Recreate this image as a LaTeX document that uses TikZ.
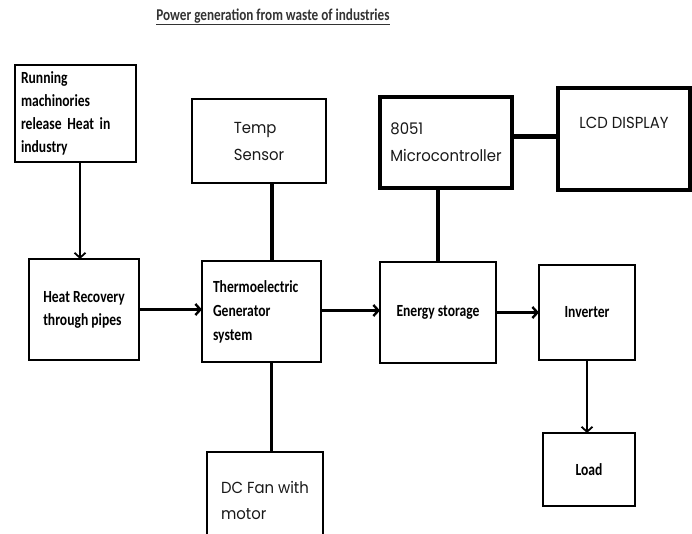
\documentclass[tikz,border=0pt]{standalone}
\usepackage{fontspec}
\newfontfamily\calib[FakeStretch=0.8]{Carlito}
\newfontfamily\gothic[FakeStretch=0.93]{Poppins}
\usetikzlibrary{arrows.meta}

\begin{document}
\begin{tikzpicture}[
  x=1pt, y=-1pt,
  box/.style={draw, line width=2.6pt, inner sep=0pt, outer sep=0pt, align=left, fill=white},
  cal/.style={font=\calib\bfseries\fontsize{17}{23}\selectfont},
  goth/.style={font=\gothic\fontsize{16}{27}\selectfont, text=black!90},
  arr/.style={-{Straight Barb[length=5pt,width=11pt]}, line width=2.4pt},
  link/.style={line width=3.4pt},
]
\useasboundingbox (0,0) rectangle (692,533);

% Title
\node[font=\calib\bfseries\fontsize{16.5}{18}\selectfont, black!80] (title) at (273,17) {\underline{Power generation from waste of industries}};

% Top row
\node[box, cal, minimum width=121, minimum height=97, text width=109] (running) at (75.5,113.5) {Running\\machinories\\release Heat in\\industry};
\node[box, goth, minimum width=134, minimum height=84] (temp) at (259,141) {Temp\\Sensor};
\node[box, goth, minimum width=132, minimum height=91, line width=3.2pt] (micro) at (446,142.5) {8051\\Microcontroller};
\node[box, goth, minimum width=132, minimum height=102, text depth=32pt, line width=3.2pt] (lcd) at (624,139) {LCD DISPLAY};

% Middle row
\node[box, cal, minimum width=110, minimum height=101] (heat) at (84,309.5) {Heat Recovery\\through pipes};
\node[box, cal, minimum width=119, minimum height=101, text width=97, font=\calib\bfseries\fontsize{17}{24}\selectfont] (thermo) at (261.5,311.5) {Thermoelectric\\Generator\\system};
\node[box, cal, minimum width=116, minimum height=101] (energy) at (438,312.5) {Energy storage};
\node[box, cal, minimum width=96, minimum height=95] (inverter) at (587,312.5) {Inverter};

% Bottom row
\node[box, goth, minimum width=116, minimum height=96, font=\gothic\fontsize{16}{26}\selectfont] (fan) at (265,500) {DC Fan with\\motor};
\node[box, cal, minimum width=92, minimum height=73] (load) at (589,469.5) {Load};

% Drop points of the vertical links
\coordinate (heatin) at ([xshift=-4pt]heat.north);
\coordinate (tempout) at ([xshift=13pt]temp.south);
\coordinate (fanout) at ([xshift=10pt]thermo.south);
\coordinate (microout) at ([yshift=6pt]micro.east);
\coordinate (thermoout) at ([yshift=1pt]thermo.east);

% Main flow
\draw[arr, line width=1.8pt] (heatin |- running.south) -- (heatin);
\draw[arr] (heat.east) -- (heat.east -| thermo.west);
\draw[arr] (thermoout) -- (thermoout -| energy.west);
\draw[arr] (energy.east) -- (energy.east -| inverter.west);
\draw[arr, line width=1.8pt] (inverter.south) -- (inverter.south |- load.north);

% Side links
\draw[link] (tempout) -- (tempout |- thermo.north);
\draw[link] (energy.north |- micro.south) -- (energy.north);
\draw[link, line width=4.4pt] (microout) -- (microout -| lcd.west);
\draw[link] (fanout) -- (fanout |- fan.north);
\end{tikzpicture}
\end{document}
